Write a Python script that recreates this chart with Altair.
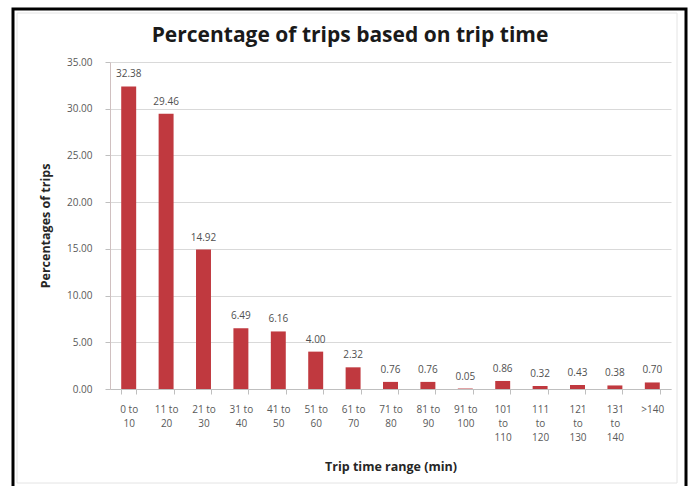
import altair as alt
import pandas as pd

# Trip-time bins (minutes) and the share of trips falling in each
ranges = ["0 to 10", "11 to 20", "21 to 30", "31 to 40", "41 to 50",
          "51 to 60", "61 to 70", "71 to 80", "81 to 90", "91 to 100",
          "101 to 110", "111 to 120", "121 to 130", "131 to 140", ">140"]
shares = [32.38, 29.46, 14.92, 6.49, 6.16, 4.00, 2.32, 0.76, 0.76, 0.05,
          0.86, 0.32, 0.43, 0.38, 0.70]
y_ticks = [0, 5, 10, 15, 20, 25, 30, 35]
chart_title = "Percentage of trips based on trip time"

df = pd.DataFrame({"range": ranges, "share": shares})

W, H = 561, 327
LEFT, TOP, RIGHT, BOTTOM = 110, 62, 17, 97
FONT = "Open Sans"
BAR = "#C0393F"

# split "0 to 10" into two lines, "101 to 110" into three
label_expr = (
    "indexof(datum.label, ' to ') < 0 ? datum.label : "
    "(length(datum.label) > 9 ? split(datum.label, ' ') : "
    "[slice(datum.label, 0, indexof(datum.label, ' to ') + 3), "
    "slice(datum.label, indexof(datum.label, ' to ') + 4)])"
)

x_enc = alt.X(
    "range:N", sort=ranges,
    scale=alt.Scale(paddingInner=0.6, paddingOuter=0.3),
    axis=alt.Axis(
        title="Trip time range (min)", labelAngle=0, labelExpr=label_expr,
        labelFont=FONT, labelFontSize=10, labelColor="#595959",
        labelBaseline="top", labelLineHeight=14, labelPadding=10,
        tickBand="extent", tickSize=5, tickColor="#bfbfbf",
        domainColor="#bfbfbf", grid=False,
        titleFont=FONT, titleFontSize=12.5, titleFontWeight="bold",
        titleColor="#262626", titleX=W / 2, titleY=81,
        titleBaseline="alphabetic", titleAlign="center",
    ),
)
y_enc = alt.Y(
    "share:Q",
    scale=alt.Scale(domain=[0, 35], nice=False),
    axis=alt.Axis(
        title="Percentages of trips", values=y_ticks, format=".2f",
        labelFont=FONT, labelFontSize=10, labelColor="#595959",
        labelPadding=13, tickSize=5, tickColor="#bfbfbf",
        domainColor="#d0c0c0", gridColor="#d9d9d9", gridWidth=1,
        titleFont=FONT, titleFontSize=12.5, titleFontWeight="bold",
        titleColor="#262626", titleAngle=270, titleX=-65, titleY=H / 2,
        titleAlign="center", titleBaseline="middle",
    ),
)

bars = alt.Chart(df).mark_bar(color=BAR).encode(x=x_enc, y=y_enc)

values = alt.Chart(df).mark_text(
    font=FONT, fontSize=10, color="#505050", baseline="bottom", dy=-7
).encode(x=alt.X("range:N", sort=ranges), y="share:Q",
         text=alt.Text("share:Q", format=".2f"))

single = alt.Data(values=[{"k": 1}])

# chart heading, centred on the framed area
heading = alt.Chart(single).mark_text(
    font=FONT, fontSize=21, fontWeight="bold", color="#1a1a1a",
    align="center", baseline="alphabetic",
).encode(x=alt.value(350 - LEFT), y=alt.value(41.5 - TOP),
         text=alt.value(chart_title))

outer = alt.Chart(single).mark_rect(
    fill=None, stroke="#000000", strokeWidth=3
).encode(
    x=alt.value(13 - LEFT), x2=alt.value(686 - LEFT),
    y=alt.value(9 - TOP), y2=alt.value(520 - TOP),
)
inner = alt.Chart(single).mark_rect(
    fill=None, stroke="#e4e4e4", strokeWidth=1
).encode(
    x=alt.value(17 - LEFT), x2=alt.value(677 - LEFT),
    y=alt.value(13 - TOP), y2=alt.value(483 - TOP),
)

chart = alt.layer(inner, outer, heading, bars, values).properties(
    width=W, height=H,
    padding={"left": LEFT, "top": TOP, "right": RIGHT, "bottom": BOTTOM},
    autosize=alt.AutoSizeParams(type="none"),
    background="white",
).configure_view(stroke=None)

chart.save("out.html", embed_options={"renderer": "svg", "actions": False})
